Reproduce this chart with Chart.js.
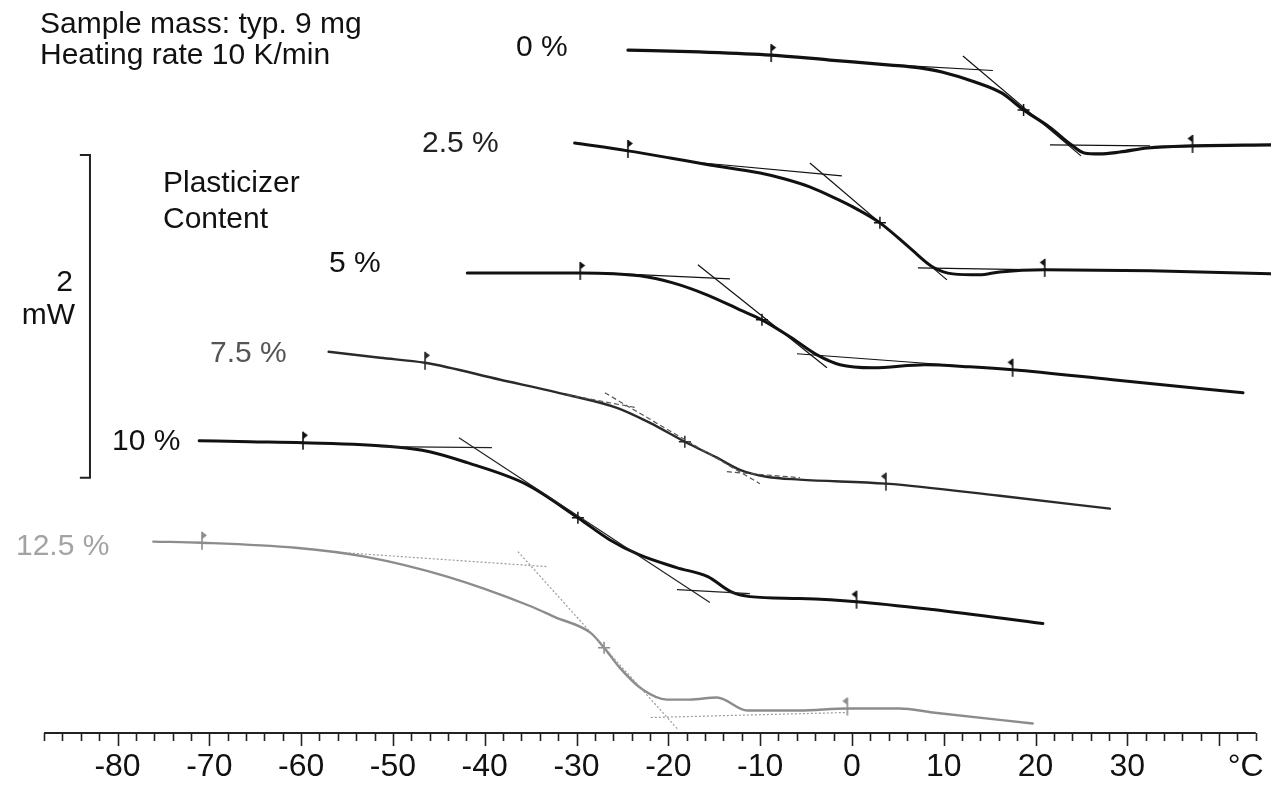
<!DOCTYPE html>
<html><head><meta charset="utf-8">
<script src="https://cdn.jsdelivr.net/npm/chart.js@4.4.0/dist/chart.umd.min.js"></script>
<style>html,body{margin:0;padding:0;background:#fff;}#wrap{width:1271px;height:790px;}</style>
</head><body><div id="wrap"><canvas id="c" width="1271" height="790"></canvas></div>
<script>
// ---- DSC curves (temperature °C, heat flow mW with vertical offsets) ----
const temp0 = [-24.4,-16.6,-8.8,-2.4,4.2,7.4,9.8,13.4,16.3,18.7,21.5,23.9,25.3,27.0,29.2,32.2,37.1,45.6];
const heat0 = [4.582,4.570,4.551,4.520,4.489,4.471,4.446,4.384,4.316,4.211,4.105,3.994,3.944,3.938,3.950,3.975,3.988,3.994];
const temp1 = [-30.2,-24.4,-19.8,-15.5,-10.0,-7.3,-4.6,-1.9,0.1,3.05,6.3,8.8,11.0,13.9,16.1,21.0,32.5,45.6];
const heat1 = [4.006,3.957,3.913,3.870,3.820,3.783,3.734,3.666,3.610,3.511,3.356,3.238,3.195,3.189,3.207,3.220,3.214,3.195];
const temp2 = [-41.9,-36.2,-29.6,-23.1,-19.5,-15.8,-12.2,-9.8,-6.75,-3.8,-1.3,2.3,7.95,12.85,17.5,28.4,42.6];
const heat2 = [3.201,3.201,3.201,3.183,3.139,3.065,2.972,2.910,2.805,2.693,2.632,2.613,2.632,2.619,2.601,2.539,2.458];
const temp3 = [-57.0,-51.4,-46.5,-38.3,-31.05,-25.6,-22.0,-18.2,-14.7,-12.2,-9.3,-5.7,3.7,16.1,28.1];
const heat3 = [2.712,2.675,2.644,2.539,2.446,2.365,2.272,2.155,2.056,1.981,1.938,1.920,1.895,1.820,1.740];
const temp4 = [-71.1,-65.6,-59.8,-50.0,-46.0,-41.9,-35.4,-29.85,-26.4,-23.2,-19.1,-15.7,-13.2,-11.1,-5.7,0.5,8.8,20.8];
const heat4 = [2.161,2.155,2.149,2.124,2.093,2.025,1.889,1.684,1.548,1.455,1.375,1.319,1.226,1.195,1.183,1.164,1.115,1.028];
const temp5 = [-76.1,-70.8,-60.6,-53.05,-44.1,-35.2,-32.35,-28.5,-27.0,-25.3,-22.8,-20.15,-17.65,-14.7,-11.4,-5.7,-0.5,5.2,8.8,19.7];
const heat5 = [1.536,1.529,1.498,1.443,1.319,1.140,1.068,0.972,0.879,0.755,0.619,0.557,0.557,0.570,0.489,0.489,0.502,0.502,0.477,0.409];

// tangent construction lines: [t1, h1, t2, h2]
const tangents0 = [[1.96,4.498,15.36,4.455],[12.09,4.545,24.95,3.926],[21.57,3.994,32.46,3.988]];
const tangents1 = [[-16.23,3.882,-1.09,3.802],[-4.58,3.882,10.35,3.158],[7.19,3.232,20.48,3.220]];
const tangents2 = [[-27.45,3.201,-13.29,3.164],[-16.78,3.251,-2.72,2.613],[-5.99,2.700,17.54,2.601]];
const tangents3 = [[-31.05,2.446,-23.42,2.365],[-26.91,2.458,-10.02,1.895],[-13.62,1.969,-5.66,1.932]];
const tangents4 = [[-51.42,2.124,-39.22,2.118],[-42.81,2.180,-15.47,1.158],[-19.06,1.238,-11.11,1.214]];
const tangents5 = [[-55.23,1.467,-33.22,1.381],[-36.38,1.474,-18.95,0.372],[-21.9,0.446,-0.54,0.477]];

// evaluation marks: onset flag, inflection (Tg), end flag  -> [t, h]
const marks0 = [[-8.8,4.551],[18.7,4.211],[37.1,3.988]];
const marks1 = [[-24.4,3.957],[3.05,3.511],[21.0,3.220]];
const marks2 = [[-29.6,3.201],[-9.8,2.910],[17.5,2.601]];
const marks3 = [[-46.5,2.644],[-18.2,2.155],[3.7,1.895]];
const marks4 = [[-59.8,2.149],[-29.85,1.684],[0.5,1.164]];
const marks5 = [[-70.8,1.529],[-27.0,0.879],[-0.5,0.502]];

const contentLabels = ['0 %','2.5 %','5 %','7.5 %','10 %','12.5 %'];
const tickValues = [-80,-70,-60,-50,-40,-30,-20,-10,0,10,20,30];
const tickLabels = ['-80','-70','-60','-50','-40','-30','-20','-10','0','10','20','30'];
const unitLabel = '°C';
const scaleBarTemps = [-84.1,-83.0,-83.0,-84.1];
const scaleBarHeat = [3.932,3.932,1.932,1.932]; // 2 mW

// ---- styles ----
const curveColors = ['#111','#111','#111','#2a2a2a','#111','#8c8c8c'];
const curveWidths = [3.2,3,3,2.4,3,2.4];
const tanColors = ['#111','#111','#111','#555','#222','#9a9a9a'];
const tanDash = [[],[],[],[5,3],[],[2,2]];
const labelColors = ['#111','#222','#111','#555','#111','#a3a3a3'];

function makeFlag(dir,color){
  const c=document.createElement('canvas');c.width=16;c.height=26;
  const g=c.getContext('2d');g.strokeStyle=color;g.fillStyle=color;g.lineWidth=1.6;
  g.beginPath();g.moveTo(8,2);g.lineTo(8,20);g.stroke();
  g.beginPath();g.moveTo(8,2);g.lineTo(8+dir*5,5.5);g.lineTo(8,9.5);g.closePath();g.fill();
  return c;
}

const temps=[temp0,temp1,temp2,temp3,temp4,temp5];
const heats=[heat0,heat1,heat2,heat3,heat4,heat5];
const tans=[tangents0,tangents1,tangents2,tangents3,tangents4,tangents5];
const marks=[marks0,marks1,marks2,marks3,marks4,marks5];

const datasets=[];
tans.forEach((list,i)=>{
  list.forEach(s=>{
    datasets.push({data:[{x:s[0],y:s[1]},{x:s[2],y:s[3]}],borderColor:tanColors[i],borderWidth:1.2,
      borderDash:tanDash[i],pointRadius:0,tension:0});
  });
});
temps.forEach((t,i)=>{
  datasets.push({data:t.map((v,k)=>({x:v,y:heats[i][k]})),borderColor:curveColors[i],borderWidth:curveWidths[i],
    pointRadius:0,cubicInterpolationMode:'monotone',borderCapStyle:'round',borderJoinStyle:'round'});
});
marks.forEach((m,i)=>{
  const col=curveColors[i];
  datasets.push({data:m.map(p=>({x:p[0],y:p[1]})),showLine:false,
    pointStyle:[makeFlag(1,col),'cross',makeFlag(-1,col)],pointRadius:[8,6,8],
    pointBorderColor:col,pointBackgroundColor:col,pointBorderWidth:1.5});
});
datasets.push({data:scaleBarTemps.map((v,k)=>({x:v,y:scaleBarHeat[k]})),borderColor:'#222',borderWidth:2,pointRadius:0,tension:0});

const texts=[
  ['Sample mass: typ. 9 mg',40,33,'#111','left'],
  ['Heating rate 10 K/min',40,64,'#111','left'],
  [contentLabels[0],516,56,labelColors[0],'left'],
  [contentLabels[1],422,152,labelColors[1],'left'],
  ['Plasticizer',163,192,'#111','left'],
  ['Content',163,228,'#111','left'],
  [contentLabels[2],329,272,labelColors[2],'left'],
  ['2',73,291,'#111','right'],
  ['mW',75,324,'#111','right'],
  [contentLabels[3],210,362,labelColors[3],'left'],
  [contentLabels[4],112,450,labelColors[4],'left'],
  [contentLabels[5],16,555,labelColors[5],'left']
];

const deco={id:'deco',afterDraw(chart){
  const ctx=chart.ctx,xs=chart.scales.x,base=chart.chartArea.bottom;
  ctx.save();
  ctx.strokeStyle='#222';ctx.lineWidth=2;
  ctx.beginPath();ctx.moveTo(xs.getPixelForValue(-88),base);ctx.lineTo(xs.getPixelForValue(44),base);ctx.stroke();
  ctx.lineWidth=1.6;
  for(let t=-88;t<=44;t+=2){
    const px=Math.round(xs.getPixelForValue(t))+0.5;const major=(t%10===0);
    ctx.beginPath();ctx.moveTo(px,base);ctx.lineTo(px,base+(major?13:8));ctx.stroke();
  }
  ctx.fillStyle='#111';ctx.font='32px "Liberation Sans", Arial, sans-serif';ctx.textAlign='center';ctx.textBaseline='alphabetic';
  tickValues.forEach((v,k)=>ctx.fillText(tickLabels[k],xs.getPixelForValue(v),base+43));
  ctx.fillText(unitLabel,xs.getPixelForValue(42.9),base+43);
  ctx.font='30px "Liberation Sans", Arial, sans-serif';
  texts.forEach(t=>{ctx.fillStyle=t[3];ctx.textAlign=t[4];ctx.fillText(t[0],t[1],t[2]);});
  ctx.restore();
}};

new Chart(document.getElementById('c'),{
  type:'line',
  data:{datasets},
  options:{responsive:false,animation:false,events:[],
    layout:{autoPadding:false,padding:{left:0,right:0,top:0,bottom:57}},
    plugins:{legend:{display:false},tooltip:{enabled:false}},
    scales:{x:{type:'linear',min:-92.8,max:45.65,display:false},y:{min:0.35,max:4.892,display:false}}
  },
  plugins:[deco]
});
</script></body></html>
